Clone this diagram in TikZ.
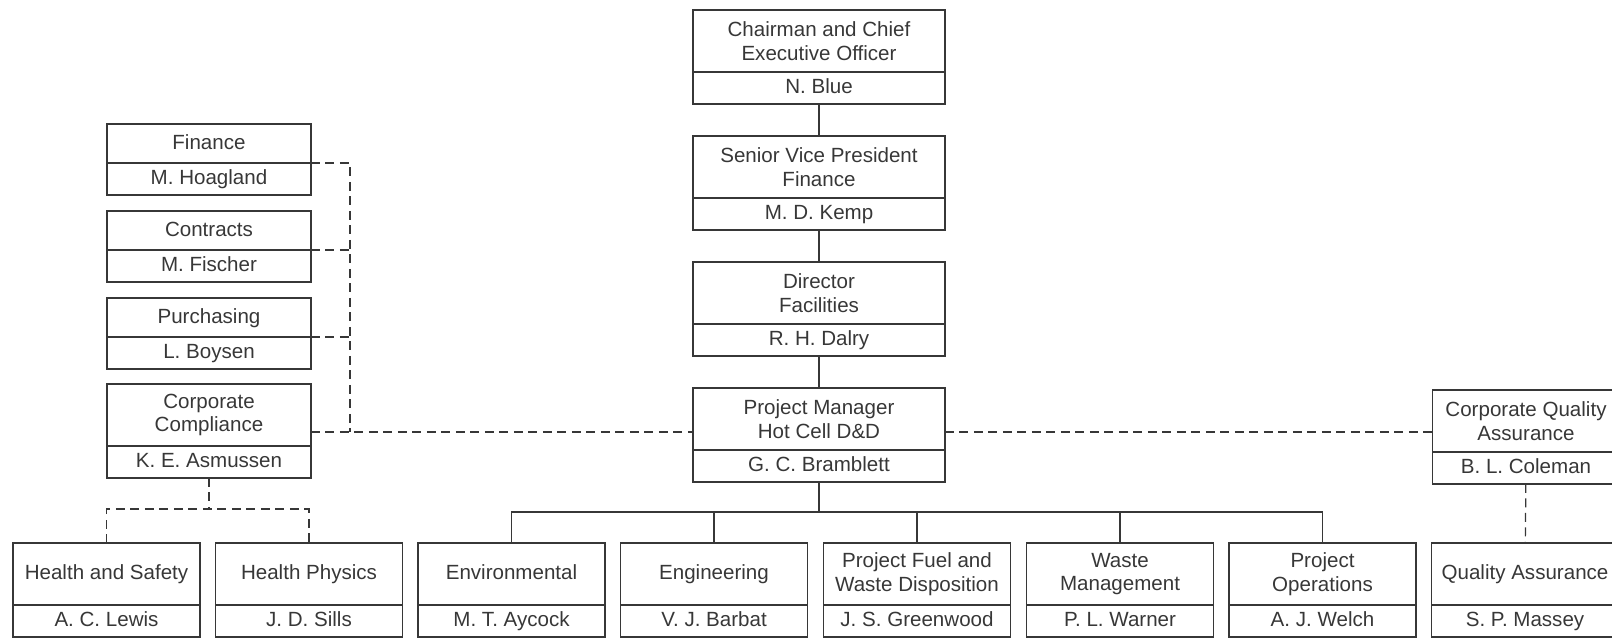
\documentclass[tikz,border=0pt]{standalone}
\usepackage{fontspec}
\setmainfont{Liberation Sans}
\usetikzlibrary{positioning}
\definecolor{ink}{RGB}{55,55,55}
\newcommand{\orgfont}{\fontsize{11.7}{13.3}\selectfont}
\tikzset{every node/.style={font=\orgfont,text=ink},
 box/.style={draw=ink,line width=.7pt,outer sep=0pt,inner sep=1pt,align=center},
 tall/.style={box,minimum height=1.24cm},short/.style={box,minimum height=.78cm,oneline},
 who/.style={box,minimum height=.64cm,oneline},oneline/.style={text height=.72em,text depth=.08em},
 wide/.style={minimum width=5.04cm},mid/.style={minimum width=4.08cm},narrow/.style={minimum width=3.74cm},
 solidlink/.style={draw=ink,line width=.7pt},dashlink/.style={solidlink,dash pattern=on .18cm off .11cm}}
\begin{document}
\begin{tikzpicture}[x=.02cm,y=-.02cm]
\clip (0,0) rectangle (1612,640);
% line management, centre column
\node[tall,wide,anchor=north] (ceo) at (819,10) {Chairman and Chief\\Executive Officer};
\node[who,wide,below=0pt of ceo] (ceo-n) {N. Blue};
\node[tall,wide,anchor=north] (svp) at (819,136) {Senior Vice President\\Finance};
\node[who,wide,below=0pt of svp] (svp-n) {M. D. Kemp};
\node[tall,wide,anchor=north] (dir) at (819,262) {Director\\Facilities};
\node[who,wide,below=0pt of dir] (dir-n) {R. H. Dalry};
\node[tall,wide,anchor=north] (pm) at (819,388) {Project Manager\\Hot Cell D\&D};
\node[who,wide,below=0pt of pm] (pm-n) {G. C. Bramblett};
% support, left column
\node[short,mid,anchor=north] (fin) at (209,124) {Finance};
\node[who,mid,below=0pt of fin] (fin-n) {M. Hoagland};
\node[short,mid,anchor=north] (con) at (209,211) {Contracts};
\node[who,mid,below=0pt of con] (con-n) {M. Fischer};
\node[short,mid,anchor=north] (pur) at (209,298) {Purchasing};
\node[who,mid,below=0pt of pur] (pur-n) {L. Boysen};
\node[tall,mid,anchor=north] (comp) at (209,384) {Corporate\\Compliance};
\node[who,mid,below=0pt of comp] (comp-n) {K. E. Asmussen};
\node[tall,narrow,anchor=north] (cqa) at (1526,390) {Corporate Quality\\Assurance};
\node[who,narrow,below=0pt of cqa] (cqa-n) {B. L. Coleman};
% bottom row
\node[tall,narrow,oneline,anchor=north] (hs) at (106.5,543) {Health and Safety};
\node[who,narrow,below=0pt of hs] (hs-n) {A. C. Lewis};
\node[tall,narrow,oneline,anchor=north] (hp) at (309,543) {Health Physics};
\node[who,narrow,below=0pt of hp] (hp-n) {J. D. Sills};
\node[tall,narrow,oneline,anchor=north] (env) at (511.5,543) {Environmental};
\node[who,narrow,below=0pt of env] (env-n) {M. T. Aycock};
\node[tall,narrow,oneline,anchor=north] (eng) at (714,543) {Engineering};
\node[who,narrow,below=0pt of eng] (eng-n) {V. J. Barbat};
\node[tall,narrow,anchor=north] (fuel) at (917,543) {Project Fuel and\\Waste Disposition};
\node[who,narrow,below=0pt of fuel] (fuel-n) {J. S. Greenwood};
\node[tall,narrow,anchor=north] (waste) at (1120,543) {Waste\\Management};
\node[who,narrow,below=0pt of waste] (waste-n) {P. L. Warner};
\node[tall,narrow,anchor=north] (ops) at (1322.5,543) {Project\\Operations};
\node[who,narrow,below=0pt of ops] (ops-n) {A. J. Welch};
\node[tall,narrow,oneline,anchor=north] (qa) at (1525,543) {Quality Assurance};
\node[who,narrow,below=0pt of qa] (qa-n) {S. P. Massey};
% solid links
\draw[solidlink] (ceo-n) -- (svp);
\draw[solidlink] (svp-n) -- (dir);
\draw[solidlink] (dir-n) -- (pm);
\coordinate (tree) at (819,512);
\draw[solidlink] (pm-n) -- (tree);
\draw[solidlink] (env.north) |- (tree) -| (ops.north);
\foreach \b in {eng,fuel,waste} \draw[solidlink] (\b.north) -- (\b.north |- tree);
% dashed links
\coordinate (bus) at (350,432);
\draw[dashlink] (fin-n.north east) -| (bus);
\draw[dashlink] (con-n.north east) -- (con-n.north east -| bus);
\draw[dashlink] (pur-n.north east) -- (pur-n.north east -| bus);
\draw[dashlink] (comp.east |- bus) -- (pm.west |- bus);
\draw[dashlink] (pm.east |- bus) -- (cqa.west |- bus);
\draw[dashlink] (cqa-n) -- (qa);
\path (comp-n.south) ++(0,31) coordinate (split);
\draw[dashlink] (comp-n.south) -- (split);
\draw[dashlink] (hs.north) |- (split) -| (hp.north);
\end{tikzpicture}
\end{document}
